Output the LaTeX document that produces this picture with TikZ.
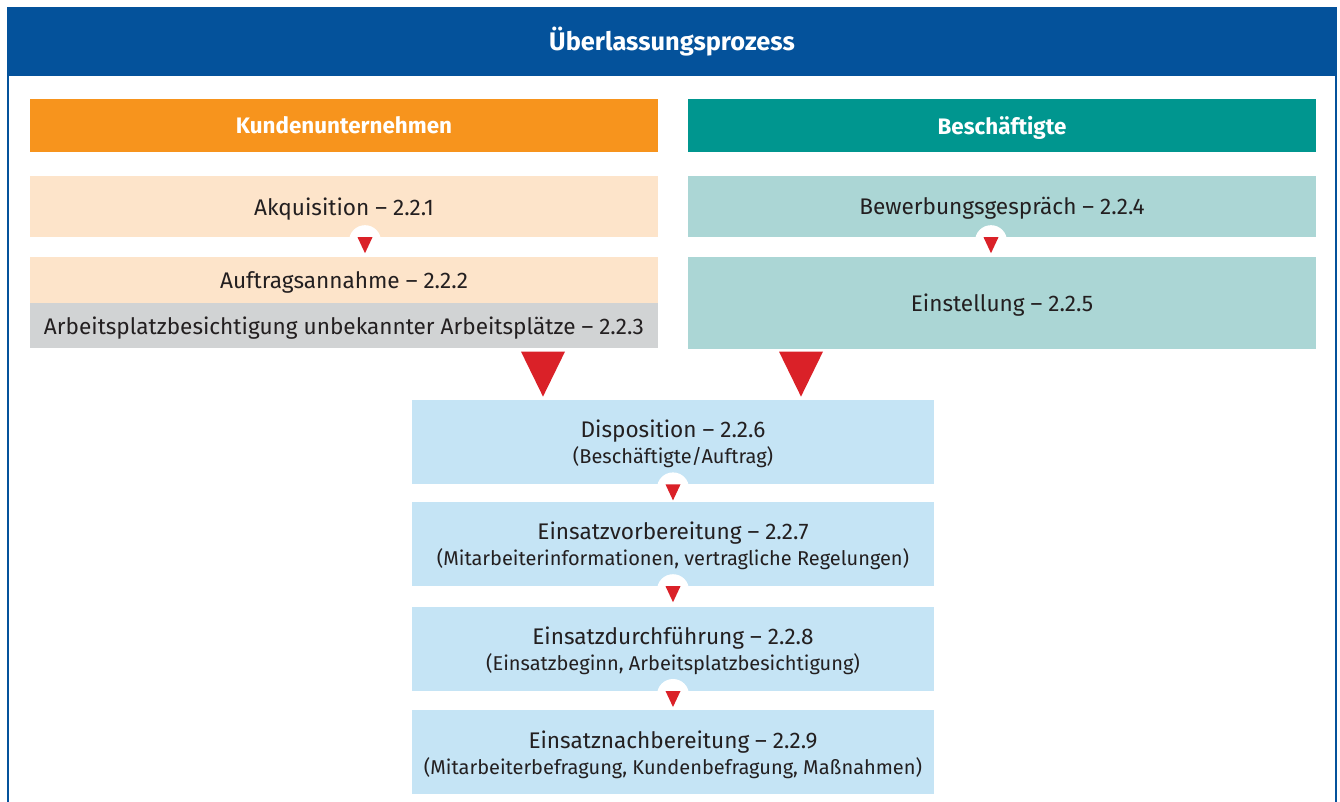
\documentclass[tikz,border=0pt]{standalone}
\usepackage{fontspec}
\setmainfont{Fira Sans}
\usetikzlibrary{positioning,calc}
\definecolor{rahmenblau}{HTML}{04529B}
\definecolor{kundenorange}{HTML}{F7941D}
\definecolor{beschteal}{HTML}{00968F}
\definecolor{pfirsich}{HTML}{FDE4CA}
\definecolor{hellteal}{HTML}{ABD6D5}
\definecolor{hellgrau}{HTML}{D1D3D4}
\definecolor{hellblau}{HTML}{C5E4F5}
\definecolor{pfeilrot}{HTML}{DA2128}
\definecolor{textgrau}{HTML}{231F20}

\begin{document}
\begin{tikzpicture}[x=0.5pt,y=-0.5pt]
	\tikzstyle{titel}
	  =[rectangle, inner sep=0pt, minimum width=665pt,
	  minimum height=34.5pt, fill=rahmenblau, text=white,
	  font=\bfseries\fontsize{12.7}{14}\selectfont]
	\tikzstyle{kopf}
	  =[rectangle, inner sep=0pt, minimum width=314pt,
	  minimum height=26.5pt, text=white, text depth=0pt,
	  font=\bfseries\fontsize{11.2}{13}\selectfont]
	\tikzstyle{seite}
	  =[rectangle, inner sep=0pt, minimum width=314pt,
	  text=textgrau, text depth=0pt, font=\fontsize{11.3}{13}\selectfont]
	\tikzstyle{mitte}
	  =[rectangle, inner sep=0pt, minimum width=261pt,
	  minimum height=42pt, fill=hellblau, text=textgrau,
	  align=center, text depth=0pt, font=\fontsize{11.3}{13}\selectfont]
	\tikzstyle{rahmen}
	  =[draw=rahmenblau, line width=0.75pt]

	\useasboundingbox (0,0) rectangle (1340,802);

	\node[titel] (titel) at (672,41.5) {Überlassungsprozess};
	\draw[rahmen] (8,76) -- (8,802);
	\draw[rahmen] (1336,76) -- (1336,802);

	\node[kopf, fill=kundenorange] (kunden) at (344,125.5)
	  {Kundenunternehmen};
	\node[kopf, fill=beschteal] (besch) at (1002,125.5)
	  {Beschäftigte};

	% linke Spalte
	\node[seite, fill=pfirsich, minimum height=30.5pt] (akqu)
	  [below=11.5pt of kunden] {Akquisition – 2.2.1};
	\fill[white] ($(akqu.south)+(21,4)$) circle (8pt);
	\fill[pfeilrot] ($(akqu.south)+(13.5,0)$) -- ++(15,0) -- ++(-7.5,16) -- cycle;
	\node[seite, fill=pfirsich, minimum height=23pt] (auftrag)
	  [below=9.5pt of akqu] {Auftragsannahme – 2.2.2};
	\node[seite, fill=hellgrau, minimum height=22.5pt] (platz)
	  [below=0pt of auftrag]
	  {Arbeitsplatzbesichtigung unbekannter Arbeitsplätze – 2.2.3};

	% rechte Spalte
	\node[seite, fill=hellteal, minimum height=30.5pt] (bewerb)
	  [below=11.5pt of besch] {Bewerbungsgespräch – 2.2.4};
	\fill[white] ($(bewerb.south)+(-11,4)$) circle (8pt);
	\fill[pfeilrot] ($(bewerb.south)+(-18.5,0)$) -- ++(15,0) -- ++(-7.5,16) -- cycle;
	\node[seite, fill=hellteal, minimum height=46pt] (einst)
	  [below=9.5pt of bewerb] {Einstellung – 2.2.5};

	% Mitte
	\node[mitte] (dispo) at (673,442)
	  {Disposition – 2.2.6\\{\fontsize{10}{13}\selectfont (Beschäftigte/Auftrag)}};
	\fill[pfeilrot] ($(dispo.north)+(-152,-48)$) -- ++(44,0) -- ++(-22,45) -- cycle;
	\fill[pfeilrot] ($(dispo.north)+(106,-48)$) -- ++(44,0) -- ++(-22,45) -- cycle;
	\fill[white] ($(dispo.south)+(0,4)$) circle (8pt);
	\fill[pfeilrot] ($(dispo.south)+(-7.5,0)$) -- ++(15,0) -- ++(-7.5,16) -- cycle;

	\node[mitte] (vorb) [below=8.5pt of dispo]
	  {Einsatzvorbereitung – 2.2.7\\{\fontsize{10}{13}\selectfont (Mitarbeiterinformationen, vertragliche Regelungen)}};
	\fill[white] ($(vorb.south)+(0,4)$) circle (8pt);
	\fill[pfeilrot] ($(vorb.south)+(-7.5,0)$) -- ++(15,0) -- ++(-7.5,16) -- cycle;

	\node[mitte] (durch) [below=10pt of vorb]
	  {Einsatzdurchführung – 2.2.8\\{\fontsize{10}{13}\selectfont (Einsatzbeginn, Arbeitsplatzbesichtigung)}};
	\fill[white] ($(durch.south)+(0,4)$) circle (8pt);
	\fill[pfeilrot] ($(durch.south)+(-7.5,0)$) -- ++(15,0) -- ++(-7.5,16) -- cycle;

	\node[mitte] (nach) [below=9.5pt of durch]
	  {Einsatznachbereitung – 2.2.9\\{\fontsize{10}{13}\selectfont (Mitarbeiterbefragung, Kundenbefragung, Maßnahmen)}};
\end{tikzpicture}
\end{document}
